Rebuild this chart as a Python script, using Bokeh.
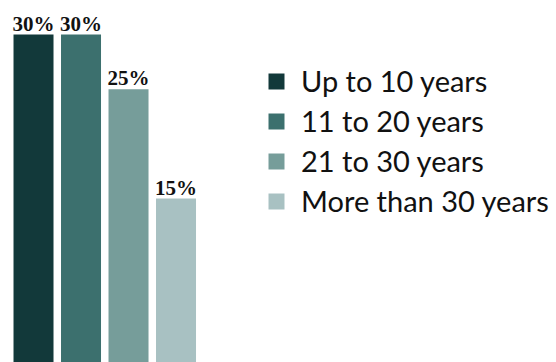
from bokeh.plotting import figure
from bokeh.models import ColumnDataSource, Range1d, Legend, LegendItem
from bokeh.core.properties import value
from bokeh.embed import file_html
from bokeh.resources import INLINE

categories = ["Up to 10 years", "11 to 20 years", "21 to 30 years", "More than 30 years"]
shares = [30, 30, 25, 15]
labels = ["30%", "30%", "25%", "15%"]
colors = ["#12393a", "#3c706e", "#769d9a", "#a8c1c2"]

src = ColumnDataSource(dict(
    x=list(range(len(categories))),
    top=shares,
    label=labels,
    cat=categories,
    color=colors,
))

p = figure(width=556, height=362, output_backend="svg", toolbar_location=None,
           x_range=Range1d(-0.695, 11.01), y_range=Range1d(0, 33.12),
           min_border=0)
p.axis.visible = False
p.grid.visible = False
p.outline_line_color = None
p.background_fill_color = None

r = p.vbar(x="x", top="top", width=40 / 47.5, fill_color="color", line_color=None, source=src)
p.text(x="x", y="top", text="label", source=src, text_align="center",
       text_baseline="alphabetic", y_offset=-11,
       text_font=value("Liberation Serif"), text_font_style="bold",
       text_font_size="21px", text_color="#111111")

items = [LegendItem(label=c, renderers=[r], index=i) for i, c in enumerate(categories)]
legend = Legend(items=items, location=(266, 144), orientation="vertical",
                glyph_width=20, glyph_height=20, label_standoff=15,
                label_text_font="Lato", label_text_font_size="29px",
                label_text_color="#111111", spacing=5, padding=0, margin=0,
                border_line_color=None, background_fill_color=None,
                label_height=20)
p.add_layout(legend)

open("out.html", "w").write(file_html(p, INLINE))
